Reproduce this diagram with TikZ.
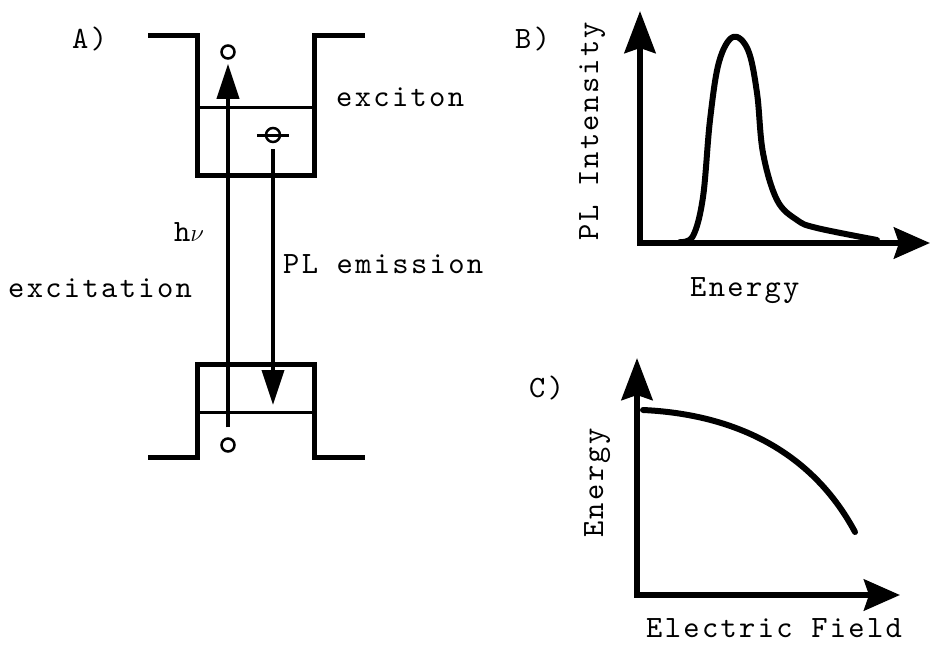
\documentclass[tikz,border=0pt]{standalone}
\usepackage{fontspec}
\setmonofont[LetterSpace=7.5]{lmmono10-regular.otf}
\usetikzlibrary{arrows.meta,positioning}

\begin{document}
\begin{tikzpicture}[x=1pt,y=-1pt]
  \tikzstyle{lbl}=[inner sep=0pt,font=\fontsize{31}{36}\ttfamily]
  \tikzstyle{band}=[line width=5pt,miter limit=4]
  \tikzstyle{lvl}=[line width=3pt]
  \tikzstyle{dot}=[circle,draw,line width=2.5pt,inner sep=0pt,minimum size=13pt]
  \tikzstyle{exc}=[-{Triangle[length=35pt,width=22pt]},line width=3.8pt]
  \tikzstyle{axis}=[{Stealth[length=42pt,width=31pt,inset=5pt]}-{Stealth[length=36pt,width=31pt,inset=5pt]},line width=6pt]
  \tikzstyle{crv}=[line width=6pt,line cap=round,line join=round]

  \useasboundingbox (0,0) rectangle (933,653);

  % A) quantum well
  \draw[band] (148,35) -- (197,35) -- (197,175) -- (314,175) -- (314,35) -- (365,35);
  \draw[lvl] (197,107) -- (314,107);
  \draw[band] (148,457) -- (197,457) -- (197,364) -- (314,364) -- (314,457) -- (365,457);
  \draw[lvl] (197,412) -- (314,412);

  \node[dot] (e1) at (228,52) {};
  \node[dot] (h1) at (228,445) {};
  \node[dot,minimum size=14pt] (el) at (273,135) {};
  \draw[lvl] ([xshift=-8pt]el.west) -- ([xshift=8pt]el.east);
  \coordinate (plend) at (273,405);

  \draw[exc,shorten <=10pt,shorten >=4pt] (h1) -- (e1);
  \draw[exc,shorten <=6pt] (el) -- (plend);

  \node[lbl,anchor=base west] (lA) at (72,48) {A)};
  \node[lbl,anchor=base west] (lexc) at (336,106) {exciton};
  \node[lbl,anchor=base west] (lhv) at (174,241) {h$\nu$};
  \node[lbl,anchor=base west] (lexct) at (8,297) {excitation};
  \node[lbl,anchor=base west] (lpl) at (283,273) {PL emission};

  % B) spectrum
  \coordinate (oB) at (640,243);
  \coordinate (yB) at (640,11);
  \coordinate (xB) at (930,243);
  \draw[axis] (yB) -- (oB) -- (xB);
  \draw[crv] plot[smooth,tension=0.6] coordinates {(680,242) (693,236) (703,197) (710,120)
    (719,62) (733,37) (748,50) (757,93) (763,153) (777,200) (797,220)
    (817,228) (877,240)};
  \node[lbl,anchor=base west] (lB) at (515,48) {B)};
  \node[lbl,anchor=base,rotate=90] (lint) at (598,131) {PL Intensity};
  \node[lbl,anchor=base west] (lenB) at (690,296) {Energy};

  % C) field dependence
  \coordinate (oC) at (637,595);
  \coordinate (yC) at (637,358);
  \coordinate (xC) at (900,595);
  \draw[axis] (yC) -- (oC) -- (xC);
  \draw[crv] (643,410) .. controls (730,414) and (810,448) .. (855,532);
  \node[lbl,anchor=base west] (lC) at (529,397) {C)};
  \node[lbl,anchor=base,rotate=90] (lenC) at (603,483) {Energy};
  \node[lbl,anchor=base west] (lfield) at (646,637) {Electric Field};
\end{tikzpicture}
\end{document}
